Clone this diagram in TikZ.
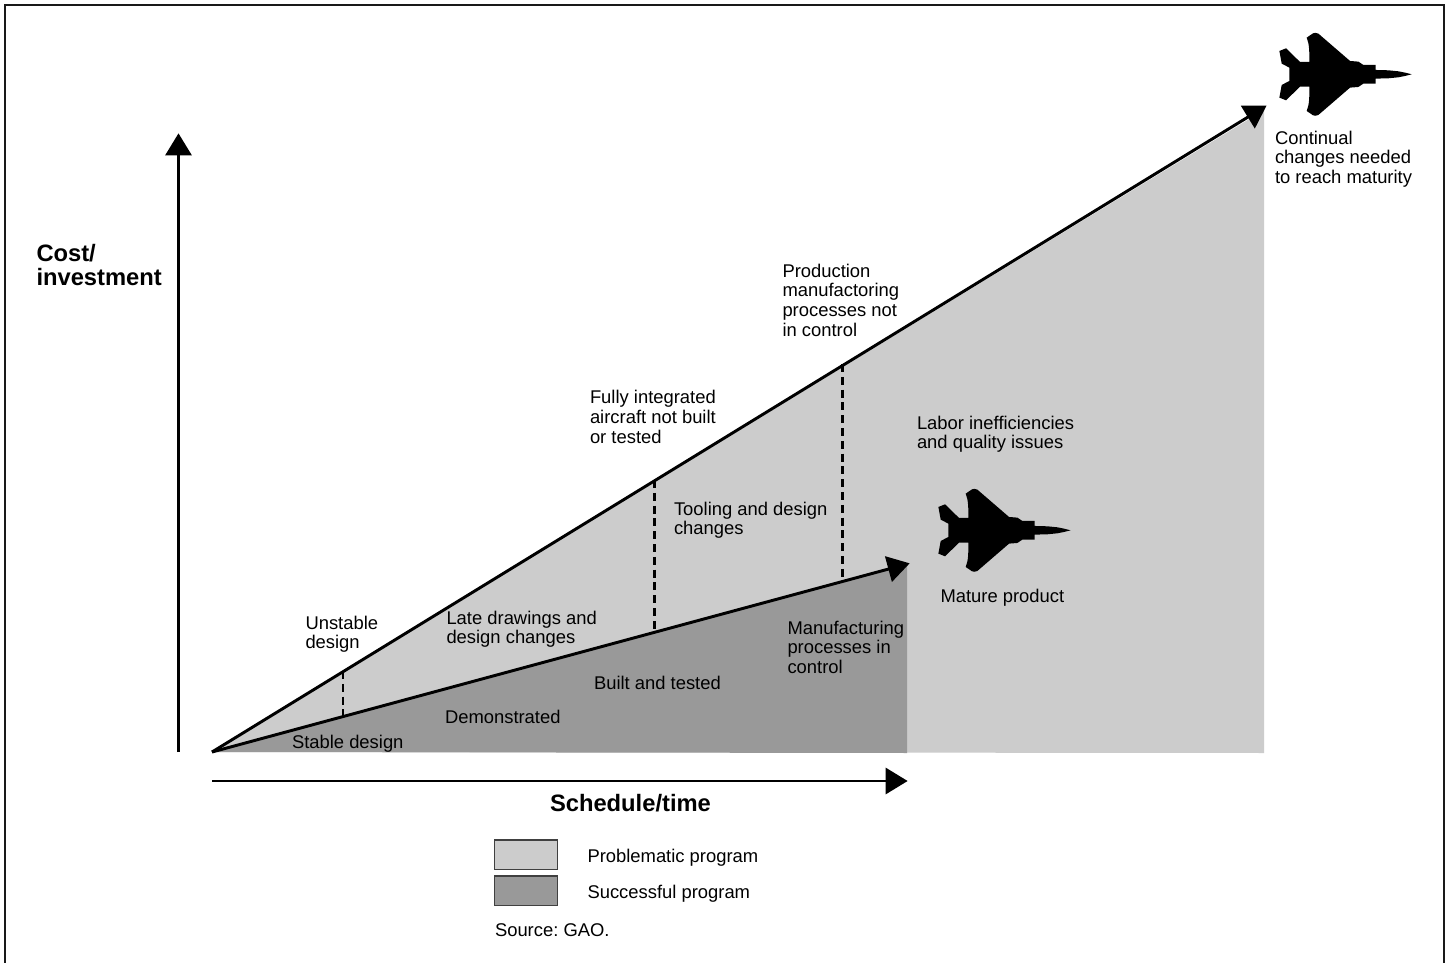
\documentclass[tikz,border=0pt]{standalone}
\usepackage{fontspec}
\setmainfont{Liberation Sans}
\usetikzlibrary{arrows.meta}
\definecolor{lightfill}{gray}{0.80}
\definecolor{darkfill}{gray}{0.60}
\tikzset{
 lbl/.style={align=left,anchor=north west,inner sep=0pt,outer sep=0pt,font=\fontsize{13.8}{14.7}\selectfont\frenchspacing},
 axislbl/.style={align=left,anchor=north west,inner sep=0pt,outer sep=0pt,font=\fontsize{17.8}{18}\selectfont\bfseries},
 arrowline/.style={line width=2.2pt,-{Triangle[length=16.5pt,width=19.5pt]},shorten >=-0.5pt},
 dashline/.style={line width=1.9pt,dash pattern=on 6pt off 3.6pt},
 swatch/.style={draw=black!75,line width=1pt,minimum width=47pt,minimum height=22pt,inner sep=0pt,outer sep=0pt},
 plane/.pic={
  \fill[black,x=0.25pt,y=-0.25pt]
   (0,0) -- (-20,-5) -- (-40,-9) -- (-70,-12) -- (-108,-13) -- (-108,-28) -- (-145,-28) -- (-160,-38) -- (-185,-40)
   -- (-280,-122) .. controls (-287,-125) and (-292,-125) .. (-296,-123) -- (-315,-110) .. controls (-307,-90) and (-307,-70) .. (-307,-37) -- (-335,-37)
   -- (-377,-78) -- (-397,-70) -- (-390,-32) -- (-367,-20) -- (-367,20) -- (-390,32) -- (-397,70)
   -- (-377,78) -- (-335,37) -- (-307,37) .. controls (-307,70) and (-307,90) .. (-315,110) -- (-296,123) .. controls (-292,125) and (-287,125) .. (-280,122)
   -- (-185,40) -- (-160,38) -- (-145,28) -- (-108,28) -- (-108,13) -- (-70,12) -- (-40,9) -- (-20,5) -- cycle;
 }
}
\begin{document}
\begin{tikzpicture}[x=0.75pt,y=-0.75pt]
\useasboundingbox (0,0) rectangle (1450,963);
\fill[white] (0,0) rectangle (1450,963);
% frame
\coordinate (fbl) at (4.5,963);
\coordinate (ftl) at (4.5,5.5);
\coordinate (ftr) at (1443.5,5.5);
\coordinate (fbr) at (1443.5,963);
\draw[line width=1.5pt,black!90] (fbl) -- (ftl) -- (ftr) -- (fbr);
% regions
\coordinate (o) at (212,752);
\coordinate (hibase) at (1264,753);
\coordinate (hitop) at (1264,110);
\coordinate (lobase) at (907,753);
\coordinate (lotop) at (907,563);
\fill[lightfill] (o) -- (hitop) -- (hibase) -- cycle;
\fill[darkfill] (o) -- (lotop) -- (lobase) -- cycle;
% trend arrows
\coordinate (hitip) at (1266,106);
\coordinate (lotip) at (909,563.5);
\draw[arrowline] (o) -- (hitip);
\draw[arrowline] (o) -- (lotip);
% axes
\coordinate (ybot) at (178.5,752);
\coordinate (ytop) at (178.5,134);
\coordinate (xl) at (212,781);
\coordinate (xr) at (907,781);
\draw[arrowline] (ybot) -- (ytop);
\draw[arrowline] (xl) -- (xr);
% dashed
\coordinate (d1a) at (343,671);
\coordinate (d1b) at (343,717);
\coordinate (d2a) at (654.5,480);
\coordinate (d2b) at (654.5,630);
\coordinate (d3a) at (842.5,364);
\coordinate (d3b) at (842.5,577);
\draw[dashline] (d1a) -- (d1b);
\draw[dashline] (d2a) -- (d2b);
\draw[dashline] (d3a) -- (d3b);
% planes
\pic at (1411.7,74.3) {plane};
\pic at (1070.7,530.3) {plane};
% labels
\node[axislbl] (cost) at (36.5,244.5) {Cost/\\investment};
\node[axislbl] (sched) at (550,794) {Schedule/time};
\node[lbl] (cont) at (1275,131) {Continual\\changes needed\\to reach maturity};
\node[lbl] (prod) at (782.5,264) {Production\\manufactoring\\processes not\\in control};
\node[lbl] (full) at (590,390.5) {Fully integrated\\aircraft not built\\or tested};
\node[lbl] (labor) at (917,416) {Labor inefficiencies\\and quality issues};
\node[lbl] (tool) at (674,502) {Tooling and design\\changes};
\node[lbl] (mature) at (940.5,589) {Mature product};
\node[lbl] (unst) at (305.5,616) {Unstable\\design};
\node[lbl] (late) at (446.5,611) {Late drawings and\\design changes};
\node[lbl] (mfg) at (787.5,621) {Manufacturing\\processes in\\control};
\node[lbl] (built) at (594,676.5) {Built and tested};
\node[lbl] (demo) at (445,710) {Demonstrated};
\node[lbl] (stable) at (292,735) {Stable design};
% legend
\node[swatch,fill=lightfill] (sw1) at (526,854.5) {};
\node[swatch,fill=darkfill] (sw2) at (526,890.5) {};
\node[lbl] (l1) at (587.5,849) {Problematic program};
\node[lbl] (l2) at (587.5,885) {Successful program};
\node[lbl] (src) at (495,923.5) {Source: GAO.};
\end{tikzpicture}
\end{document}
